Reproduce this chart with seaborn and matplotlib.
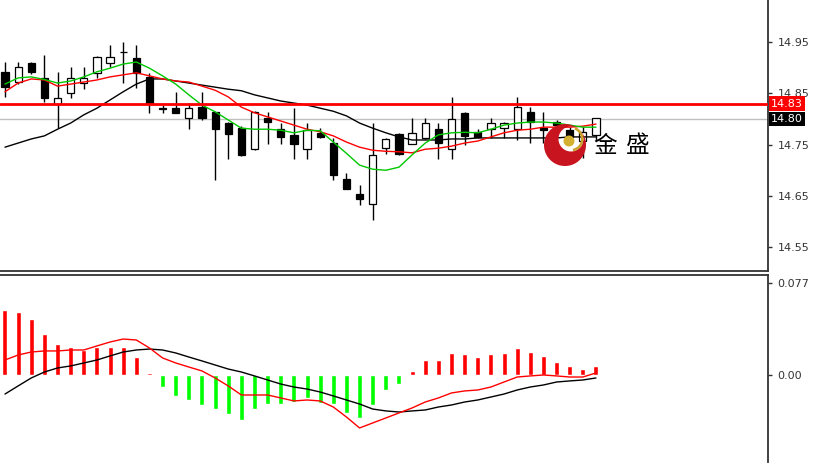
import numpy as np
import seaborn as sns
import matplotlib.pyplot as plt
import matplotlib.transforms as mtransforms
from matplotlib.path import Path
from matplotlib.patches import PathPatch, Circle, Wedge

# candle data
opens = [14.892, 14.872, 14.909, 14.880, 14.829, 14.851, 14.870, 14.890, 14.909, 14.931,
         14.919, 14.882, 14.821, 14.821, 14.802, 14.823, 14.814, 14.792, 14.782, 14.741,
         14.802, 14.780, 14.769, 14.741, 14.773, 14.753, 14.683, 14.654, 14.634, 14.743,
         14.771, 14.751, 14.763, 14.780, 14.741, 14.812, 14.774, 14.780, 14.782, 14.780,
         14.814, 14.782, 14.794, 14.778, 14.757, 14.769]
highs = [14.911, 14.911, 14.911, 14.925, 14.892, 14.901, 14.901, 14.923, 14.944, 14.950,
         14.944, 14.890, 14.827, 14.853, 14.831, 14.853, 14.814, 14.794, 14.786, 14.815,
         14.814, 14.792, 14.821, 14.792, 14.782, 14.763, 14.695, 14.671, 14.792, 14.763,
         14.773, 14.802, 14.802, 14.792, 14.843, 14.814, 14.780, 14.802, 14.794, 14.843,
         14.823, 14.814, 14.798, 14.784, 14.784, 14.802]
lows = [14.843, 14.868, 14.888, 14.833, 14.782, 14.841, 14.858, 14.880, 14.901, 14.870,
        14.860, 14.812, 14.812, 14.812, 14.780, 14.798, 14.681, 14.722, 14.728, 14.739,
        14.751, 14.751, 14.722, 14.722, 14.763, 14.681, 14.663, 14.632, 14.603, 14.732,
        14.730, 14.751, 14.761, 14.722, 14.722, 14.749, 14.763, 14.763, 14.763, 14.759,
        14.753, 14.753, 14.769, 14.759, 14.724, 14.759]
closes = [14.862, 14.901, 14.892, 14.841, 14.841, 14.880, 14.880, 14.921, 14.921, 14.931,
          14.890, 14.831, 14.819, 14.812, 14.821, 14.802, 14.780, 14.771, 14.730, 14.814,
          14.794, 14.765, 14.751, 14.778, 14.765, 14.691, 14.663, 14.644, 14.730, 14.761,
          14.732, 14.773, 14.792, 14.753, 14.800, 14.767, 14.765, 14.792, 14.792, 14.823,
          14.794, 14.778, 14.788, 14.765, 14.774, 14.802]

# moving averages
ma_fast = [14.868, 14.880, 14.882, 14.877, 14.870, 14.874, 14.882, 14.892, 14.899, 14.907,
           14.911, 14.899, 14.884, 14.868, 14.847, 14.827, 14.814, 14.798, 14.782, 14.780,
           14.780, 14.778, 14.773, 14.778, 14.777, 14.755, 14.733, 14.710, 14.702, 14.700,
           14.706, 14.730, 14.753, 14.769, 14.773, 14.774, 14.773, 14.780, 14.788, 14.792,
           14.794, 14.794, 14.792, 14.788, 14.784, 14.784]
ma_mid = [14.853, 14.870, 14.878, 14.876, 14.864, 14.868, 14.872, 14.876, 14.882, 14.886,
          14.890, 14.884, 14.878, 14.874, 14.872, 14.864, 14.856, 14.843, 14.823, 14.812,
          14.804, 14.796, 14.788, 14.780, 14.775, 14.767, 14.755, 14.745, 14.739, 14.737,
          14.736, 14.734, 14.741, 14.743, 14.747, 14.753, 14.757, 14.765, 14.773, 14.778,
          14.780, 14.784, 14.784, 14.784, 14.786, 14.790]
ma_slow = [14.745, 14.753, 14.761, 14.767, 14.780, 14.792, 14.808, 14.821, 14.837, 14.853,
           14.868, 14.878, 14.878, 14.874, 14.870, 14.866, 14.862, 14.858, 14.855, 14.847,
           14.841, 14.835, 14.831, 14.827, 14.821, 14.815, 14.806, 14.792, 14.782, 14.773,
           14.765, 14.759, 14.759, 14.759, 14.761, 14.761, 14.763, 14.763, 14.763, 14.763,
           14.763, 14.763, 14.763, 14.765, 14.765, 14.765]

# MACD panel
macd_hist = [0.0546, 0.0529, 0.0470, 0.0344, 0.0260, 0.0235, 0.0210, 0.0235, 0.0235, 0.0235,
             0.0151, 0.0013, -0.0101, -0.0176, -0.0210, -0.0252, -0.0286, -0.0328, -0.0378, -0.0286,
             -0.0244, -0.0244, -0.0227, -0.0193, -0.0235, -0.0244, -0.0319, -0.0361, -0.0252, -0.0126,
             -0.0076, 0.0034, 0.0126, 0.0126, 0.0185, 0.0176, 0.0151, 0.0176, 0.0185, 0.0227,
             0.0193, 0.0160, 0.0109, 0.0076, 0.0050, 0.0076]
macd_red = [0.0126, 0.0168, 0.0193, 0.0202, 0.0202, 0.0210, 0.0210, 0.0244, 0.0277, 0.0302,
            0.0294, 0.0227, 0.0143, 0.0101, 0.0067, 0.0034, -0.0025, -0.0092, -0.0168, -0.0168,
            -0.0168, -0.0193, -0.0218, -0.0210, -0.0218, -0.0269, -0.0353, -0.0445, -0.0403, -0.0361,
            -0.0319, -0.0277, -0.0227, -0.0193, -0.0151, -0.0134, -0.0126, -0.0101, -0.0059, -0.0017,
            -0.0008, 0.0000, -0.0008, -0.0017, -0.0017, 0.0017]
macd_black = [-0.0160, -0.0092, -0.0025, 0.0025, 0.0059, 0.0076, 0.0101, 0.0126, 0.0160, 0.0193,
              0.0210, 0.0218, 0.0210, 0.0185, 0.0151, 0.0118, 0.0084, 0.0050, 0.0025, -0.0008,
              -0.0042, -0.0076, -0.0101, -0.0118, -0.0143, -0.0176, -0.0210, -0.0244, -0.0286, -0.0302,
              -0.0311, -0.0302, -0.0294, -0.0269, -0.0252, -0.0227, -0.0210, -0.0185, -0.0160, -0.0126,
              -0.0101, -0.0084, -0.0059, -0.0050, -0.0042, -0.0025]

price_ticks = [14.55, 14.65, 14.75, 14.85, 14.95]
macd_ticks = [0.0, 0.077]
level_line = 14.83
bid_line = 14.80

sns.set_style("white")
plt.rcParams['font.family'] = ['DejaVu Sans']

W, H = 819, 468
fig = plt.figure(figsize=(W / 100, H / 100), dpi=100)
x = np.arange(len(opens))

# main price panel
ax = fig.add_axes([0, 1 - 271 / H, 768 / W, 271 / H])
ax.vlines(x, lows, highs, color="black", lw=1, zorder=2)
for i in x:
    o, c = opens[i], closes[i]
    face = "white" if c > o else "black"
    ax.bar(i, abs(c - o), bottom=min(o, c), width=0.55, color=face,
           edgecolor="black", linewidth=0.9, zorder=3)

sns.lineplot(x=x, y=ma_slow, ax=ax, color="black", lw=1, zorder=4)
sns.lineplot(x=x, y=ma_mid, ax=ax, color="red", lw=1, zorder=4)
sns.lineplot(x=x, y=ma_fast, ax=ax, color="#00c800", lw=1, zorder=4)

ax.axhline(bid_line, color="#c0c0c0", lw=1, zorder=1)
ax.axhline(level_line, color="red", lw=2, zorder=5)

ax.set_xlim(-0.38, 58.1)
ax.set_ylim(14.5036, 15.0319)
ax.set_xticks([])
ax.yaxis.tick_right()
ax.set_yticks(price_ticks)
ax.set_yticklabels([f"{t:.2f}" for t in price_ticks])
for s in ["top", "left"]:
    ax.spines[s].set_visible(False)
for s in ["right", "bottom"]:
    ax.spines[s].set_color("#333333")
    ax.spines[s].set_linewidth(1.3)
ax.tick_params(axis="y", direction="out", length=3, width=1, colors="#333333",
               labelsize=8, pad=4)

trans = mtransforms.blended_transform_factory(ax.transAxes, ax.transData)
ax.text(1.004, level_line, f"{level_line:.2f}", transform=trans, ha="left", va="center",
        color="white", fontsize=8, zorder=10, clip_on=False,
        bbox=dict(boxstyle="square,pad=0.2", fc="red", ec="none"))
ax.text(1.004, bid_line, f"{bid_line:.2f}", transform=trans, ha="left", va="center",
        color="white", fontsize=8, zorder=10, clip_on=False,
        bbox=dict(boxstyle="square,pad=0.2", fc="black", ec="none"))

# MACD panel
ax2 = fig.add_axes([0, 1 - 462 / H, 768 / W, (462 - 275) / H])
hist_colors = ["red" if v > 0 else "#00ff00" for v in macd_hist]
ax2.bar(x, macd_hist, width=0.38, color=hist_colors, zorder=2)
sns.lineplot(x=x, y=macd_black, ax=ax2, color="black", lw=1, zorder=3)
sns.lineplot(x=x, y=macd_red, ax=ax2, color="red", lw=1, zorder=3)
ax2.set_xlim(-0.38, 58.1)
ax2.set_ylim(-0.0731, 0.084)
ax2.set_xticks([])
ax2.yaxis.tick_right()
ax2.set_yticks(macd_ticks)
ax2.set_yticklabels(["0.00", "0.077"])
for s in ["bottom", "left"]:
    ax2.spines[s].set_visible(False)
for s in ["right", "top"]:
    ax2.spines[s].set_color("#333333")
    ax2.spines[s].set_linewidth(1.3)
ax2.tick_params(axis="y", direction="out", length=3, width=1, colors="#333333",
                labelsize=8, pad=4)

# watermark logo (pixel coordinates)
lg = fig.add_axes([0, 0, 1, 1], zorder=20)
lg.set_xlim(0, W)
lg.set_ylim(H, 0)
lg.axis("off")
t = np.linspace(0, 2 * np.pi, 120)
outer = np.column_stack([565 + 21 * np.cos(t), 145 + 21 * np.sin(t)])
inner = np.column_stack([571 + 12.5 * np.cos(t), 139 + 12.5 * np.sin(t)])[::-1]
verts = np.vstack([outer, outer[:1], inner, inner[:1]])
codes = ([Path.MOVETO] + [Path.LINETO] * (len(outer) - 1) + [Path.CLOSEPOLY]
         + [Path.MOVETO] + [Path.LINETO] * (len(inner) - 1) + [Path.CLOSEPOLY])
lg.add_patch(PathPatch(Path(verts, codes), fc="#c8141e", ec="none"))
lg.add_patch(Wedge((571, 139), 12.5, -70, 80, width=2.5, fc="#c9a227", ec="none"))
lg.add_patch(Circle((569, 141), 5.5, fc="#d4b030", ec="none"))
lg.text(605, 146, "金", fontsize=17, family=["Noto Sans CJK SC", "DejaVu Sans"],
        ha="center", va="center", color="black")
lg.text(638, 146, "盛", fontsize=17, family=["Noto Sans CJK SC", "DejaVu Sans"],
        ha="center", va="center", color="black")

fig.savefig("out.png", dpi=100)
